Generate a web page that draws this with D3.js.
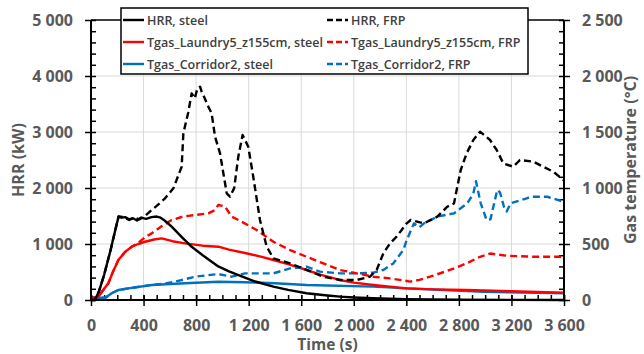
<!DOCTYPE html>
<html>
<head>
<meta charset="utf-8">
<script src="https://cdn.jsdelivr.net/npm/d3@7"></script>
<style>
  body { margin: 0; background: #fff; }
  svg { display: block; font-family: "Open Sans", sans-serif; }
</style>
</head>
<body>
<svg id="chart" width="644" height="354"></svg>
<script>
// time (s), HRR (kW)
var hrrSteel = [[0,0],[30,0],[60,150],[100,450],[150,900],[190,1300],[210,1490],[230,1470],[260,1480],[290,1440],[320,1460],[350,1420],[380,1470],[420,1450],[460,1480],[500,1490],[530,1470],[560,1420],[614,1310],[680,1150],[766,950],[850,800],[969,600],[1050,510],[1147,420],[1250,330],[1388,240],[1500,180],[1641,120],[1800,80],[1895,60],[2000,45],[2148,30],[2400,15],[2800,5],[3600,0]];
var hrrFrp = [[0,0],[30,0],[60,150],[100,450],[150,900],[190,1300],[210,1490],[250,1480],[290,1430],[330,1470],[370,1440],[410,1500],[462,1607],[500,1680],[563,1815],[627,1994],[690,2380],[703,2976],[740,3350],[766,3690],[790,3600],[810,3780],[830,3810],[845,3700],[855,3660],[893,3452],[918,3333],[944,2917],[982,2619],[1033,1905],[1058,1845],[1090,2000],[1121,2560],[1154,2946],[1197,2738],[1235,2200],[1286,1428],[1337,952],[1388,744],[1515,655],[1641,536],[1768,416],[1895,357],[2022,357],[2123,416],[2174,536],[2225,833],[2276,1012],[2326,1131],[2403,1369],[2433,1428],[2534,1369],[2636,1488],[2712,1666],[2763,1726],[2788,2023],[2814,2321],[2859,2619],[2910,2857],[2961,3006],[3037,2857],[3088,2678],[3138,2440],[3214,2380],[3265,2500],[3366,2470],[3442,2380],[3519,2291],[3595,2143]];
// time (s), gas temperature (°C)
var laundrySteel = [[0,20],[40,20],[56,29],[100,100],[132,149],[170,260],[208,357],[260,430],[310,476],[360,500],[411,520],[480,540],[538,550],[620,525],[715,506],[850,485],[969,476],[1050,450],[1172,420],[1300,385],[1388,357],[1500,320],[1641,268],[1750,225],[1895,179],[2000,155],[2149,134],[2403,104],[2600,95],[2859,89],[3200,78],[3595,66]];
var laundryFrp = [[0,20],[40,20],[56,29],[100,100],[132,149],[170,260],[208,357],[260,430],[310,476],[360,510],[411,560],[462,595],[540,660],[614,714],[700,745],[791,759],[893,774],[940,800],[969,848],[1000,840],[1020,833],[1071,744],[1147,699],[1261,625],[1388,520],[1515,446],[1641,386],[1768,327],[1895,268],[2022,238],[2149,208],[2276,193],[2403,170],[2428,164],[2500,180],[2580,208],[2732,268],[2859,327],[2961,386],[3037,415],[3100,405],[3164,395],[3366,386],[3595,386]];
var corridorSteel = [[0,20],[110,20],[157,60],[208,89],[284,104],[462,134],[715,149],[969,163],[1172,158],[1400,150],[1641,134],[2149,119],[2403,104],[2986,74],[3595,60]];
var corridorFrp = [[0,20],[110,20],[157,60],[208,89],[284,104],[462,134],[550,145],[639,163],[791,208],[969,232],[1071,208],[1172,238],[1286,238],[1388,238],[1515,282],[1591,290],[1641,297],[1743,253],[1895,238],[2022,238],[2149,244],[2225,268],[2301,327],[2377,446],[2403,535],[2458,684],[2500,650],[2534,684],[2636,744],[2763,774],[2864,863],[2910,950],[2930,1060],[2966,863],[3011,714],[3040,720],[3092,982],[3113,960],[3143,833],[3164,790],[3194,863],[3316,907],[3346,922],[3473,922],[3595,878]];

var xTicks = [0,400,800,1200,1600,2000,2400,2800,3200,3600];
var hrrTicks = [0,1000,2000,3000,4000,5000];
var tempTicks = [0,500,1000,1500,2000,2500];

var series = [
  {name: "HRR, steel", data: hrrSteel, axis: "L", color: "#000000", dash: null},
  {name: "HRR, FRP", data: hrrFrp, axis: "L", color: "#000000", dash: "7,4"},
  {name: "Tgas_Laundry5_z155cm, steel", data: laundrySteel, axis: "R", color: "#ff0000", dash: null},
  {name: "Tgas_Laundry5_z155cm, FRP", data: laundryFrp, axis: "R", color: "#ff0000", dash: "7,4"},
  {name: "Tgas_Corridor2, steel", data: corridorSteel, axis: "R", color: "#0070c0", dash: null},
  {name: "Tgas_Corridor2, FRP", data: corridorFrp, axis: "R", color: "#0070c0", dash: "7,4"}
];

function draw() {
  var left = 91, right = 564, plotTop = 20, bottom = 300;
  var grey = "#595959";
  var svg = d3.select("#chart");

  var x = d3.scaleLinear().domain([0, 3600]).range([left, right]);
  var yL = d3.scaleLinear().domain([0, 5000]).range([bottom, plotTop]);
  var yR = d3.scaleLinear().domain([0, 2500]).range([bottom, plotTop]);

  var loc = d3.formatLocale({decimal: ".", thousands: " ", grouping: [3], currency: ["", ""]});
  var fmt = loc.format(",d");

  // grid
  svg.append("g").selectAll("line").data(xTicks.slice(1, -1)).enter().append("line")
    .attr("x1", function(d) { return x(d); }).attr("x2", function(d) { return x(d); })
    .attr("y1", plotTop).attr("y2", bottom)
    .attr("stroke", "#d9d9d9").attr("stroke-width", 1);
  svg.append("g").selectAll("line").data(hrrTicks.slice(1, -1)).enter().append("line")
    .attr("x1", left).attr("x2", right)
    .attr("y1", function(d) { return yL(d); }).attr("y2", function(d) { return yL(d); })
    .attr("stroke", "#d9d9d9").attr("stroke-width", 1);

  // minor ticks
  svg.append("g").attr("class", "minor").attr("transform", "translate(" + left + ",0)")
    .call(d3.axisRight(yL).tickValues(d3.range(0, 5001, 200)).tickSize(5).tickFormat(""));
  svg.append("g").attr("class", "minor").attr("transform", "translate(" + right + ",0)")
    .call(d3.axisLeft(yR).tickValues(d3.range(0, 2501, 100)).tickSize(5).tickFormat(""));
  svg.append("g").attr("class", "minor").attr("transform", "translate(0," + bottom + ")")
    .call(d3.axisTop(x).tickValues(d3.range(0, 3601, 100)).tickSize(5).tickFormat(""));

  // lines
  var lineL = d3.line().x(function(d) { return x(d[0]); }).y(function(d) { return yL(d[1]); });
  var lineR = d3.line().x(function(d) { return x(d[0]); }).y(function(d) { return yR(d[1]); });
  var order = [4, 2, 5, 3, 0, 1];
  order.forEach(function(i) {
    var s = series[i];
    svg.append("path")
      .attr("d", (s.axis == "L" ? lineL : lineR)(s.data))
      .attr("fill", "none")
      .attr("stroke", s.color)
      .attr("stroke-width", 2.4)
      .attr("stroke-linejoin", "round")
      .attr("stroke-dasharray", s.dash);
  });

  // major axes
  var axL = svg.append("g").attr("transform", "translate(" + left + ",0)")
    .call(d3.axisLeft(yL).tickValues(hrrTicks).tickSize(6).tickPadding(12).tickFormat(fmt));
  var axR = svg.append("g").attr("transform", "translate(" + right + ",0)")
    .call(d3.axisRight(yR).tickValues(tempTicks).tickSize(6).tickPadding(12).tickFormat(fmt));
  var axB = svg.append("g").attr("transform", "translate(0," + bottom + ")")
    .call(d3.axisBottom(x).tickValues(xTicks).tickSize(6).tickPadding(14).tickFormat(fmt));
  axB.selectAll(".tick line").attr("y1", -5);

  svg.selectAll(".domain").remove();
  svg.selectAll(".tick line").attr("stroke", "#000").attr("stroke-width", 1.5);
  [axL, axR, axB].forEach(function(a) {
    a.selectAll("text").attr("fill", grey).attr("font-size", 16).attr("font-weight", 700)
      .attr("font-family", "'Open Sans', sans-serif");
  });

  // frame lines
  svg.append("line").attr("x1", left).attr("x2", left).attr("y1", plotTop).attr("y2", bottom).attr("stroke", "#000").attr("stroke-width", 2);
  svg.append("line").attr("x1", right).attr("x2", right).attr("y1", plotTop).attr("y2", bottom).attr("stroke", "#000").attr("stroke-width", 2);
  svg.append("line").attr("x1", left - 1).attr("x2", right + 1).attr("y1", bottom).attr("y2", bottom).attr("stroke", "#000").attr("stroke-width", 2);
  svg.append("line").attr("x1", left).attr("x2", right).attr("y1", plotTop).attr("y2", plotTop).attr("stroke", "#000").attr("stroke-width", 1.5);

  // axis titles
  svg.append("text").attr("transform", "translate(24," + ((plotTop + bottom) / 2) + ") rotate(-90)")
    .attr("text-anchor", "middle").attr("fill", grey).attr("font-size", 16).attr("font-weight", 700)
    .text("HRR (kW)");
  svg.append("text").attr("transform", "translate(636," + ((plotTop + bottom) / 2) + ") rotate(-90)")
    .attr("text-anchor", "middle").attr("fill", grey).attr("font-size", 16).attr("font-weight", 700)
    .text("Gas temperature (°C)");
  svg.append("text").attr("x", (left + right) / 2).attr("y", 350)
    .attr("text-anchor", "middle").attr("fill", grey).attr("font-size", 15.5).attr("font-weight", 700)
    .text("Time (s)");

  // legend
  var lg = svg.append("g");
  lg.append("rect").attr("x", 121).attr("y", 8).attr("width", 407).attr("height", 66)
    .attr("fill", "#fff").attr("stroke", "#000").attr("stroke-width", 1.5);
  series.forEach(function(s, i) {
    var col = i % 2, row = Math.floor(i / 2);
    var lx = col == 0 ? 123 : 327, ly = 20 + row * 22;
    lg.append("line").attr("x1", lx).attr("x2", lx + 21).attr("y1", ly).attr("y2", ly)
      .attr("stroke", s.color).attr("stroke-width", 2.4).attr("stroke-dasharray", s.dash ? "6,3" : null);
    lg.append("text").attr("x", lx + 24).attr("y", ly + 5)
      .attr("fill", "#404040").attr("font-size", 12.5).attr("font-weight", 600)
      .text(s.name);
  });
}

draw();
</script>
</body>
</html>
